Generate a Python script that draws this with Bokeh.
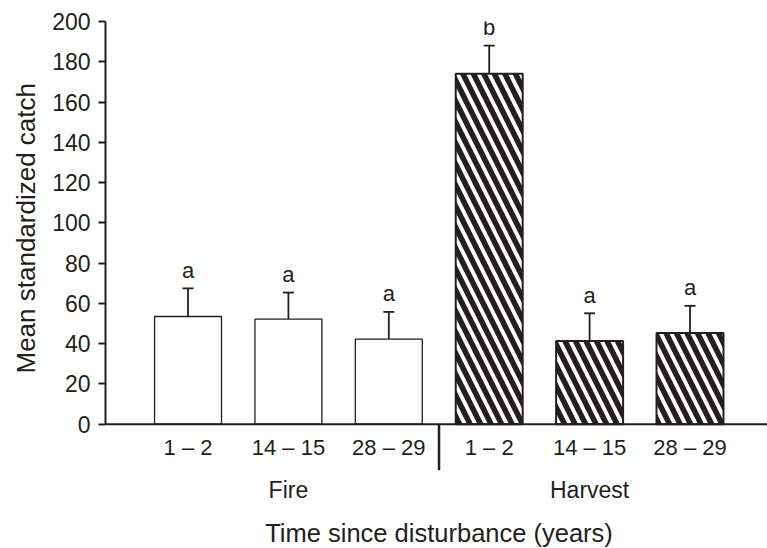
import math
from bokeh.plotting import figure
from bokeh.models import Range1d, FixedTicker, Span, Whisker, TeeHead, ColumnDataSource, Title
from bokeh.core.properties import value
from bokeh.embed import file_html
from bokeh.resources import INLINE

# ---- data ----
periods = ["1 – 2", "14 – 15", "28 – 29", "1 – 2", "14 – 15", "28 – 29"]
groups = ["Fire", "Harvest"]
means = [53.5, 52.2, 42.3, 174.0, 41.3, 45.3]
errors = [14.0, 13.2, 13.5, 14.0, 13.8, 13.5]
letters = ["a", "a", "a", "b", "a", "a"]
y_ticks = [0, 20, 40, 60, 80, 100, 120, 140, 160, 180, 200]

INK = "#231f20"
FONT = "Liberation Sans"

idx = list(range(len(means)))
tops = [m + e for m, e in zip(means, errors)]

p = figure(width=767, height=548, output_backend="svg", toolbar_location=None,
           x_range=Range1d(-0.822, 5.772), y_range=Range1d(-61.7, 200),
           min_border_left=105, min_border_right=0, min_border_top=21, min_border_bottom=0,
           x_axis_location=None)
p.outline_line_color = None
p.xgrid.visible = False
p.ygrid.visible = False
p.background_fill_color = "white"

yax = p.yaxis[0]
yax.ticker = FixedTicker(ticks=y_ticks)
yax.bounds = (0, 200)
yax.axis_line_width = 2
yax.axis_line_color = INK
yax.major_tick_line_width = 2
yax.major_tick_line_color = INK
yax.major_tick_out = 7
yax.major_tick_in = 0
yax.minor_tick_line_color = None
yax.major_label_standoff = 8
yax.major_label_text_font = FONT
yax.major_label_text_font_size = "23px"
yax.major_label_text_color = INK

# y axis title, placed alongside the 0-200 span
p.add_layout(Title(text="Mean standardized catch", align="left", offset=175,
                   text_font=FONT, text_font_size="26px", text_font_style="normal",
                   text_color=INK, standoff=17), "left")

# baseline (x axis line)
p.add_layout(Span(location=0, dimension="width", line_color=INK, line_width=2))

fire_src = ColumnDataSource(dict(x=idx[:3], top=means[:3]))
harv_src = ColumnDataSource(dict(x=idx[3:], top=means[3:]))
W = 0.667
p.vbar(x="x", top="top", bottom=0, width=W, source=fire_src,
       fill_color="white", line_color=INK, line_width=1.3)
p.vbar(x="x", top="top", bottom=0, width=W, source=harv_src,
       fill_color="white", line_color=INK, line_width=2,
       hatch_pattern="\\", hatch_color=INK, hatch_scale=21, hatch_weight=5.5)

err_src = ColumnDataSource(dict(x=idx, lower=means, upper=tops))
p.add_layout(Whisker(base="x", lower="lower", upper="upper", source=err_src,
                     line_color=INK, line_width=1.8, lower_head=None,
                     upper_head=TeeHead(size=11, line_color=INK, line_width=1.8)))

p.text(x=idx, y=tops, text=letters, y_offset=-18, text_align="center",
       text_baseline="middle", text_font=value(FONT), text_font_size="22px",
       text_color=INK)

# category tick labels
p.text(x=idx, y=[0] * len(idx), text=periods, y_offset=23, text_align="center",
       text_baseline="middle", text_font=value(FONT), text_font_size="22px",
       text_color=INK)

# group labels
p.text(x=[1, 4], y=[0, 0], text=groups, y_offset=65.5, text_align="center",
       text_baseline="middle", text_font=value(FONT), text_font_size="23px",
       text_color=INK)

# divider between groups
px_per_unit = (548 - 21) / (200 + 61.7)
p.segment(x0=[2.5], y0=[0], x1=[2.5], y1=[-46 / px_per_unit], line_color=INK, line_width=2.5)

# x axis title
p.text(x=[2.5], y=[0], text=["Time since disturbance (years)"], y_offset=108.5,
       text_align="center", text_baseline="middle", text_font=value(FONT),
       text_font_size="25.5px", text_color=INK)

open("out.html", "w").write(file_html(p, INLINE))
